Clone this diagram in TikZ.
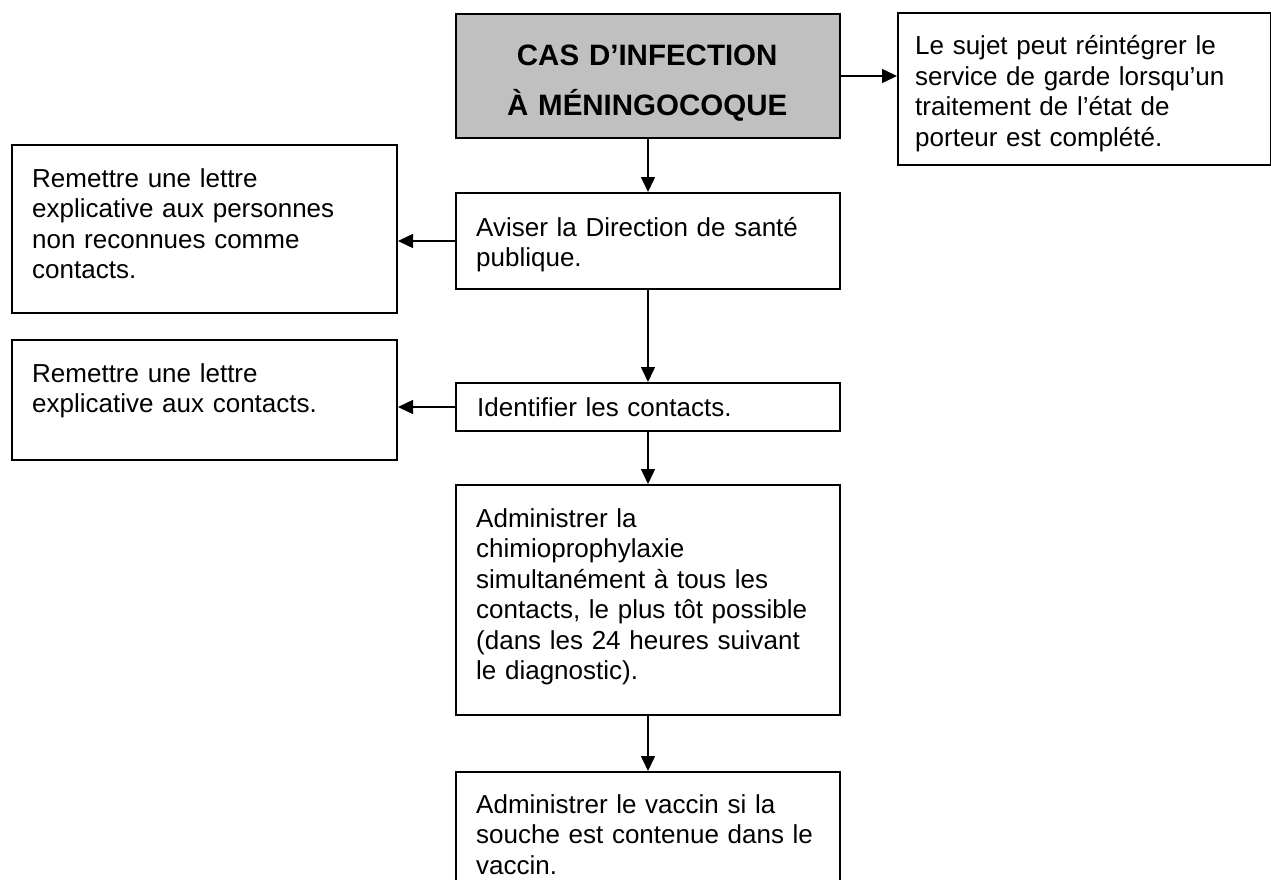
\documentclass[tikz,border=0pt]{standalone}
\usepackage{fontspec}
\setmainfont{Liberation Sans}
\usetikzlibrary{arrows.meta}
\definecolor{boxgray}{HTML}{C0C0C0}
\begin{document}
\begin{tikzpicture}[x=1pt,y=-1pt,
  box/.style={draw, line width=2pt, rectangle, inner sep=0pt, anchor=north west},
  txt/.style={anchor=base west, inner sep=0pt, align=left, text width=#1, font=\fontsize{26}{30.5}\selectfont},
  conn/.style={line width=1.5pt, -{Triangle[length=15pt,width=14pt]}}]
\useasboundingbox (0,0) rectangle (1271,880);
% boxes
\node[box, fill=boxgray, minimum width=384pt, minimum height=124pt] (cas) at (455,13) {};
\node[box, minimum width=373pt, minimum height=152pt] (reint) at (897,12) {};
\node[box, minimum width=385pt, minimum height=168pt] (lettre1) at (11,144) {};
\node[box, minimum width=384pt, minimum height=96pt] (aviser) at (455,192) {};
\node[box, minimum width=385pt, minimum height=120pt] (lettre2) at (11,339) {};
\node[box, minimum width=384pt, minimum height=48pt] (ident) at (455,382) {};
\node[box, minimum width=384pt, minimum height=230pt] (chimio) at (455,484) {};
\node[box, minimum width=384pt, minimum height=125pt] (vaccin) at (455,771) {};
% texts
\node[anchor=base west, inner sep=0pt, text width=384pt, align=center, font=\bfseries\fontsize{29.5}{50}\selectfont] (tcas) at (455,66) {CAS D’INFECTION\\À MÉNINGOCOQUE};
\node[txt=360pt] (treint) at (915,55) {Le sujet peut réintégrer le\\service de garde lorsqu’un\\traitement de l’état de\\porteur est complété.};
\node[txt=370pt] (tlettre1) at (32,187) {Remettre une lettre\\explicative aux personnes\\non reconnues comme\\contacts.};
\node[txt=370pt] (taviser) at (476,236) {Aviser la Direction de santé\\publique.};
\node[txt=370pt] (tlettre2) at (32,382) {Remettre une lettre\\explicative aux contacts.};
\node[txt=370pt] (tident) at (477,416) {Identifier les contacts.};
\node[txt=370pt] (tchimio) at (476,527) {Administrer la\\chimioprophylaxie\\simultanément à tous les\\contacts, le plus tôt possible\\(dans les 24 heures suivant\\le diagnostic).};
\node[txt=370pt] (tvaccin) at (476,813) {Administrer le vaccin si la\\souche est contenue dans le\\vaccin.};
% connectors
\draw[conn] (cas.east) -- (reint.west |- cas.east);
\draw[conn] (cas.south) -- (aviser.north);
\draw[conn] (aviser.west) -- (lettre1.east |- aviser.west);
\draw[conn] (aviser.south) -- (ident.north);
\draw[conn] (ident.west) -- (lettre2.east |- ident.west);
\draw[conn] (ident.south) -- (chimio.north);
\draw[conn] (chimio.south) -- (vaccin.north);
\end{tikzpicture}
\end{document}
